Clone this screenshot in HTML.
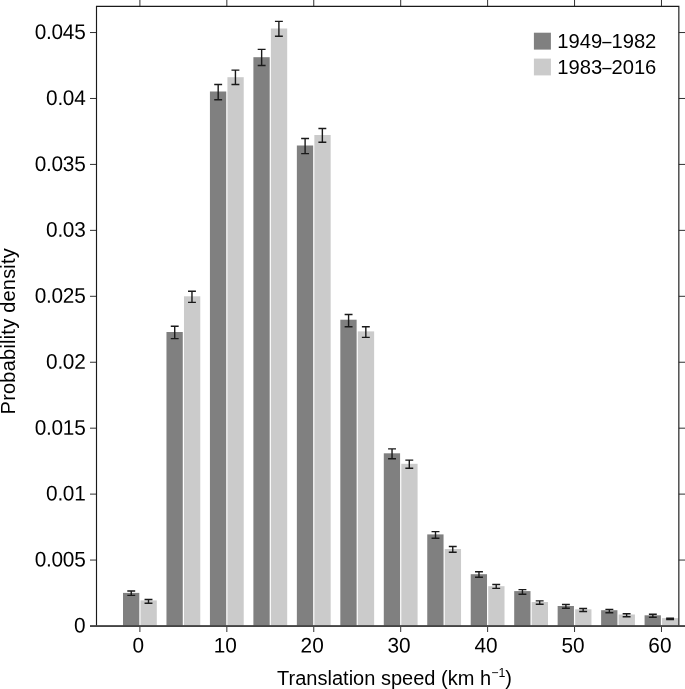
<!DOCTYPE html>
<html lang="en"><head><meta charset="utf-8"><title>Translation speed probability density</title>
<style>
html,body{margin:0;padding:0;background:#fff;}
svg{display:block;}
text{font-family:"Liberation Sans",sans-serif;fill:#000;}
</style></head><body>
<svg width="685" height="689" viewBox="0 0 685 689">
<rect x="0" y="0" width="685" height="689" fill="#ffffff"/>

<g shape-rendering="auto">
<rect x="123.00" y="592.90" width="16.30" height="33.10" fill="#808080"/>
<rect x="140.50" y="600.40" width="16.30" height="25.60" fill="#cbcbcb"/>
<rect x="166.47" y="332.00" width="16.30" height="294.00" fill="#808080"/>
<rect x="183.97" y="296.30" width="16.30" height="329.70" fill="#cbcbcb"/>
<rect x="209.93" y="91.50" width="16.30" height="534.50" fill="#808080"/>
<rect x="227.43" y="77.20" width="16.30" height="548.80" fill="#cbcbcb"/>
<rect x="253.39" y="57.20" width="16.30" height="568.80" fill="#808080"/>
<rect x="270.89" y="28.50" width="16.30" height="597.50" fill="#cbcbcb"/>
<rect x="296.86" y="145.50" width="16.30" height="480.50" fill="#808080"/>
<rect x="314.36" y="135.00" width="16.30" height="491.00" fill="#cbcbcb"/>
<rect x="340.33" y="319.70" width="16.30" height="306.30" fill="#808080"/>
<rect x="357.83" y="331.40" width="16.30" height="294.60" fill="#cbcbcb"/>
<rect x="383.79" y="453.30" width="16.30" height="172.70" fill="#808080"/>
<rect x="401.29" y="463.80" width="16.30" height="162.20" fill="#cbcbcb"/>
<rect x="427.25" y="534.40" width="16.30" height="91.60" fill="#808080"/>
<rect x="444.75" y="549.00" width="16.30" height="77.00" fill="#cbcbcb"/>
<rect x="470.72" y="574.20" width="16.30" height="51.80" fill="#808080"/>
<rect x="488.22" y="586.20" width="16.30" height="39.80" fill="#cbcbcb"/>
<rect x="514.19" y="591.10" width="16.30" height="34.90" fill="#808080"/>
<rect x="531.69" y="602.00" width="16.30" height="24.00" fill="#cbcbcb"/>
<rect x="557.65" y="606.00" width="16.30" height="20.00" fill="#808080"/>
<rect x="575.15" y="609.30" width="16.30" height="16.70" fill="#cbcbcb"/>
<rect x="601.12" y="610.20" width="16.30" height="15.80" fill="#808080"/>
<rect x="618.62" y="614.50" width="16.30" height="11.50" fill="#cbcbcb"/>
<rect x="644.58" y="615.30" width="16.30" height="10.70" fill="#808080"/>
<rect x="662.08" y="618.10" width="16.30" height="7.90" fill="#cbcbcb"/>
</g>
<g stroke="#1a1a1a" stroke-width="1.4" fill="none">
<path d="M127.30 591.00H135.20M127.30 595.40H135.20M131.25 591.00V595.40"/>
<path d="M144.55 599.50H152.45M144.55 603.30H152.45M148.50 599.50V603.30"/>
<path d="M170.77 326.20H178.66M170.77 338.60H178.66M174.72 326.20V338.60"/>
<path d="M188.02 291.20H195.91M188.02 302.40H195.91M191.97 291.20V302.40"/>
<path d="M214.23 84.50H222.13M214.23 99.80H222.13M218.18 84.50V99.80"/>
<path d="M231.48 70.10H239.38M231.48 84.50H239.38M235.43 70.10V84.50"/>
<path d="M257.69 49.40H265.59M257.69 65.50H265.59M261.64 49.40V65.50"/>
<path d="M274.94 21.40H282.84M274.94 36.30H282.84M278.89 21.40V36.30"/>
<path d="M301.16 138.50H309.06M301.16 153.60H309.06M305.11 138.50V153.60"/>
<path d="M318.41 128.50H326.31M318.41 142.30H326.31M322.36 128.50V142.30"/>
<path d="M344.63 314.50H352.53M344.63 326.70H352.53M348.58 314.50V326.70"/>
<path d="M361.88 326.70H369.78M361.88 337.40H369.78M365.83 326.70V337.40"/>
<path d="M388.09 448.90H395.99M388.09 458.70H395.99M392.04 448.90V458.70"/>
<path d="M405.34 460.10H413.24M405.34 468.20H413.24M409.29 460.10V468.20"/>
<path d="M431.56 531.60H439.45M431.56 538.20H439.45M435.50 531.60V538.20"/>
<path d="M448.81 546.50H456.70M448.81 552.30H456.70M452.75 546.50V552.30"/>
<path d="M475.02 571.80H482.92M475.02 577.20H482.92M478.97 571.80V577.20"/>
<path d="M492.27 584.50H500.17M492.27 588.40H500.17M496.22 584.50V588.40"/>
<path d="M518.49 589.60H526.39M518.49 594.30H526.39M522.44 589.60V594.30"/>
<path d="M535.74 600.90H543.64M535.74 604.20H543.64M539.69 600.90V604.20"/>
<path d="M561.95 604.50H569.85M561.95 608.20H569.85M565.90 604.50V608.20"/>
<path d="M579.20 608.50H587.10M579.20 611.50H587.10M583.15 608.50V611.50"/>
<path d="M605.41 609.40H613.32M605.41 612.80H613.32M609.37 609.40V612.80"/>
<path d="M622.66 613.80H630.57M622.66 616.70H630.57M626.62 613.80V616.70"/>
<path d="M648.88 614.30H656.78M648.88 617.20H656.78M652.83 614.30V617.20"/>
<path d="M666.13 618.20H674.03M666.13 619.60H674.03M670.08 618.20V619.60"/>
</g>
<g stroke="#1a1a1a" stroke-width="1.15" fill="none">
<path d="M96.5 626.0V6.4H678.85V626.0"/>
<path d="M90 560.06H96.5M678.85 560.06H685" stroke-width="0.9"/>
<path d="M90 494.12H96.5M678.85 494.12H685" stroke-width="0.9"/>
<path d="M90 428.18H96.5M678.85 428.18H685" stroke-width="0.9"/>
<path d="M90 362.24H96.5M678.85 362.24H685" stroke-width="0.9"/>
<path d="M90 296.30H96.5M678.85 296.30H685" stroke-width="0.9"/>
<path d="M90 230.36H96.5M678.85 230.36H685" stroke-width="0.9"/>
<path d="M90 164.42H96.5M678.85 164.42H685" stroke-width="0.9"/>
<path d="M90 98.48H96.5M678.85 98.48H685" stroke-width="0.9"/>
<path d="M90 32.54H96.5M678.85 32.54H685" stroke-width="0.9"/>
<path d="M139.90 0V6.4M139.90 626.0V632" stroke-width="0.9"/>
<path d="M226.83 0V6.4M226.83 626.0V632" stroke-width="0.9"/>
<path d="M313.76 0V6.4M313.76 626.0V632" stroke-width="0.9"/>
<path d="M400.69 0V6.4M400.69 626.0V632" stroke-width="0.9"/>
<path d="M487.62 0V6.4M487.62 626.0V632" stroke-width="0.9"/>
<path d="M574.55 0V6.4M574.55 626.0V632" stroke-width="0.9"/>
<path d="M661.48 0V6.4M661.48 626.0V632" stroke-width="0.9"/>
</g>
<rect x="90" y="625.1" width="595" height="1.9" fill="#454545"/>
<g font-size="20.8" text-anchor="end" letter-spacing="-0.3">
<text transform="translate(85.4 632.50) scale(1 1.02) rotate(0.03)">0</text>
<text transform="translate(85.4 566.56) scale(1 1.02) rotate(0.03)">0.005</text>
<text transform="translate(85.4 500.62) scale(1 1.02) rotate(0.03)">0.01</text>
<text transform="translate(85.4 434.68) scale(1 1.02) rotate(0.03)">0.015</text>
<text transform="translate(85.4 368.74) scale(1 1.02) rotate(0.03)">0.02</text>
<text transform="translate(85.4 302.80) scale(1 1.02) rotate(0.03)">0.025</text>
<text transform="translate(85.4 236.86) scale(1 1.02) rotate(0.03)">0.03</text>
<text transform="translate(85.4 170.92) scale(1 1.02) rotate(0.03)">0.035</text>
<text transform="translate(85.4 104.98) scale(1 1.02) rotate(0.03)">0.04</text>
<text transform="translate(85.4 39.04) scale(1 1.02) rotate(0.03)">0.045</text>
</g>
<g font-size="20.8" text-anchor="middle">
<text transform="translate(138.30 652.4) scale(1 1.02) rotate(0.03)">0</text>
<text transform="translate(225.23 652.4) scale(1 1.02) rotate(0.03)">10</text>
<text transform="translate(312.16 652.4) scale(1 1.02) rotate(0.03)">20</text>
<text transform="translate(399.09 652.4) scale(1 1.02) rotate(0.03)">30</text>
<text transform="translate(486.02 652.4) scale(1 1.02) rotate(0.03)">40</text>
<text transform="translate(572.95 652.4) scale(1 1.02) rotate(0.03)">50</text>
<text transform="translate(659.88 652.4) scale(1 1.02) rotate(0.03)">60</text>
</g>
<text font-size="20" x="277" y="684.8" textLength="235" lengthAdjust="spacing">Translation speed (km h<tspan font-size="12.4" dy="-7.8">−1</tspan><tspan dy="7.8">)</tspan></text>
<text font-size="20" transform="translate(15 414.4) rotate(-90)" textLength="166.2" lengthAdjust="spacing">Probability density</text>
<rect x="533.9" y="32.7" width="17" height="16.9" fill="#808080"/>
<rect x="533.9" y="58.6" width="17" height="16.8" fill="#cbcbcb"/>
<text font-size="20.2" x="557.3" y="48.1">1949<tspan textLength="9.2" lengthAdjust="spacingAndGlyphs">–</tspan>1982</text>
<text font-size="20.2" x="557.3" y="73.9">1983<tspan textLength="9.2" lengthAdjust="spacingAndGlyphs">–</tspan>2016</text>
</svg></body></html>
